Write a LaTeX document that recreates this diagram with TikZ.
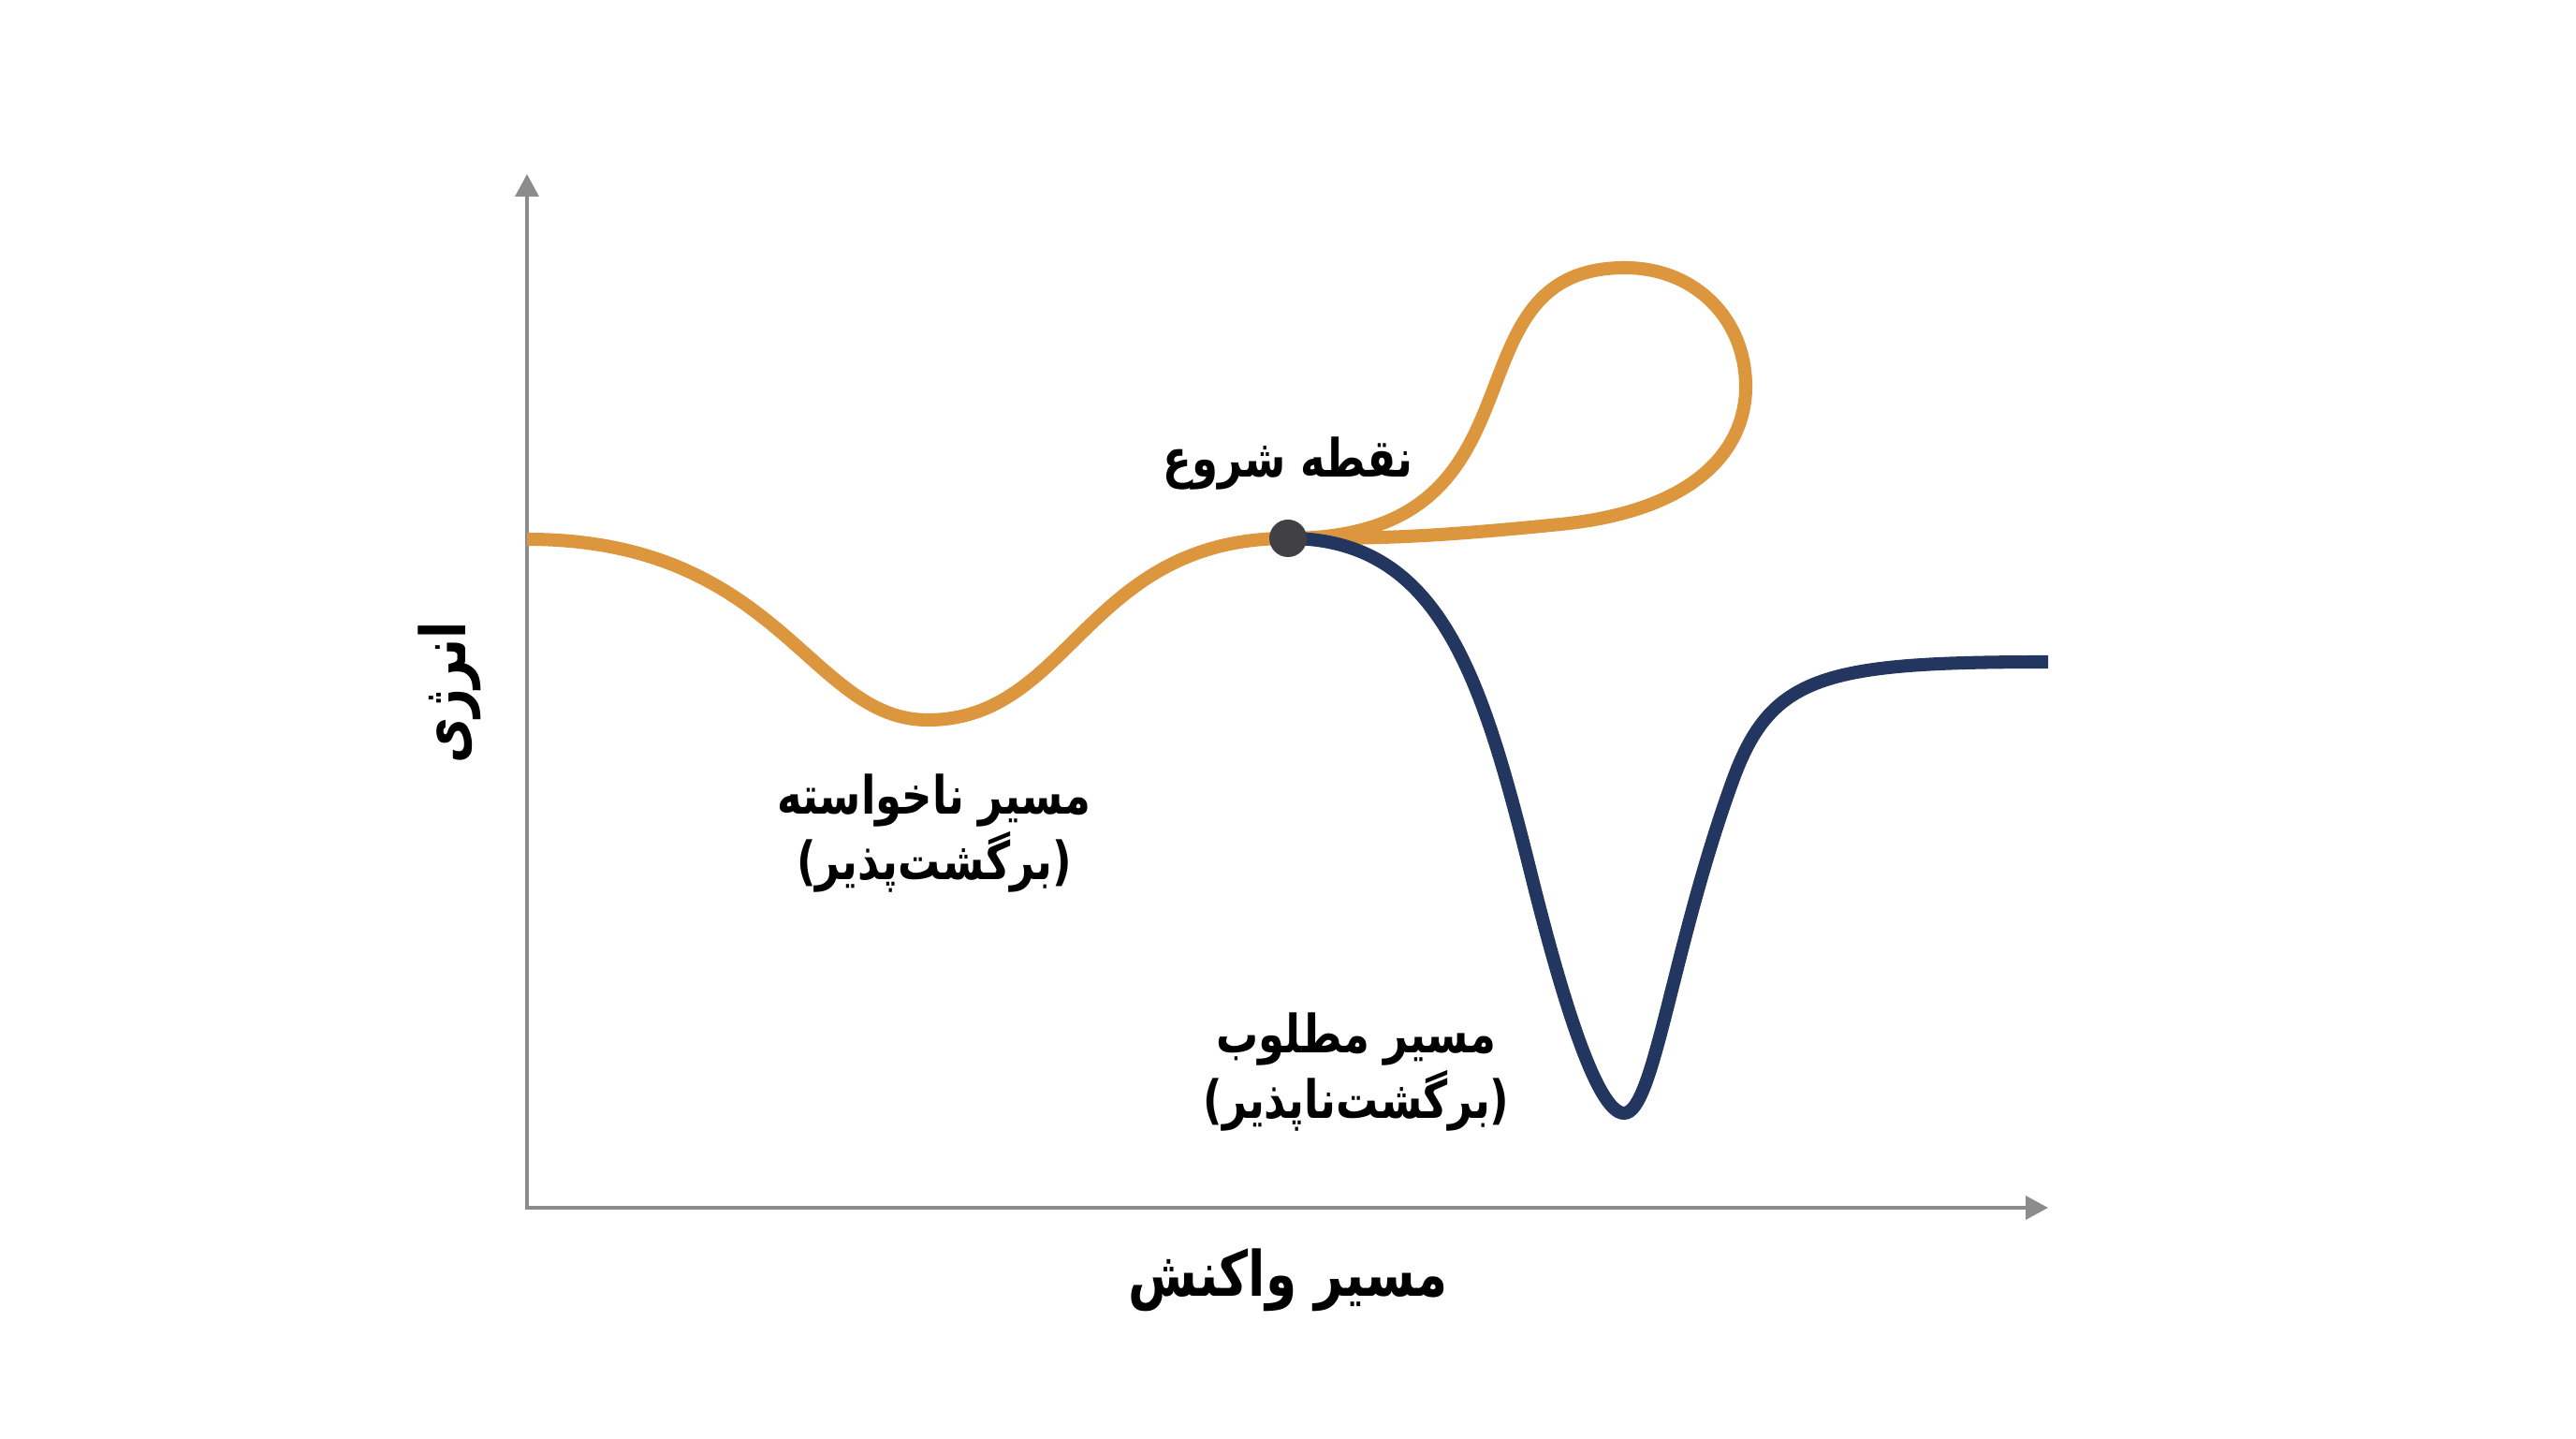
\documentclass[tikz,border=0pt]{standalone}
\usepackage{fontspec}
\usetikzlibrary{arrows.meta}
\newfontfamily\arabicfont[Script=Arabic, FakeStretch=0.8]{DejaVu Sans}
\TeXXeTstate=1
\definecolor{pathorange}{HTML}{DC963E}
\definecolor{pathblue}{HTML}{22365F}
\definecolor{dotgray}{HTML}{414042}
\definecolor{axisgray}{HTML}{8C8C8C}
\tikzstyle{axisline} = [draw=axisgray, line width=1pt,
{Triangle[length=0.24cm, width=0.25cm]}-{Triangle[length=0.24cm, width=0.25cm]}]
\tikzstyle{curve} = [line width=4pt]
\tikzstyle{lbl} = [font=\arabicfont\bfseries\fontsize{16}{20}\selectfont,
align=center, inner sep=0pt]
\tikzstyle{axlbl} = [font=\arabicfont\bfseries\fontsize{19}{23}\selectfont, inner sep=0pt]
\tikzstyle{dot} = [circle, fill=dotgray, minimum size=0.40cm, inner sep=0pt]

\begin{document}
\begin{tikzpicture}
\useasboundingbox[fill=white] (0,0) rectangle (27.52,15.36);

% axes
\coordinate (origin) at (5.63,2.46);
\coordinate (ytip) at (5.63,13.50);
\coordinate (xtip) at (21.88,2.46);
\draw[axisline] (ytip) -- (origin) -- (xtip);

% key points of the curves
\coordinate (start) at (13.76,9.61);
\coordinate (left) at (5.63,9.60);
\coordinate (well) at (9.91,7.67);
\coordinate (top) at (17.36,12.50);
\coordinate (right) at (18.65,11.23);
\coordinate (turn) at (16.67,9.76);
\coordinate (descent) at (16.37,5.97);
\coordinate (low) at (17.35,3.47);
\coordinate (rise) at (18.51,7.02);
\coordinate (end) at (21.88,8.29);

% unwanted path, reversible
\draw[curve, pathorange] (left) .. controls +(2.7,0) and +(-1.26,0) .. (well)
  .. controls +(1.535,0) and +(-2.165,0) .. (start);
\draw[curve, pathorange] (start) .. controls +(2.9,0) and +(-2.0,0) .. (top)
  .. controls +(0.75,0) and +(0,0.72) .. (right)
  .. controls +(0,-0.63) and +(1.5,0.15) .. (turn)
  .. controls +(-1.5,-0.15) and +(0.9,0) .. (start);

% desired path, irreversible
\draw[curve, pathblue] (start) .. controls +(1.64,0) and +(-0.53,2.13) .. (descent)
  .. controls +(0.29,-1.16) and +(-0.3,0) .. (low)
  .. controls +(0.32,0) and +(-0.65,-1.79) .. (rise)
  .. controls +(0.41,1.13) and +(-2.4,0) .. (end);

\node[dot] (startdot) at (start) {};

% labels
\node[lbl] (startlbl) at (13.76,10.41) {\beginR نقطه شروع\endR};
\node[lbl] (unwanted) at (9.98,6.46) {\beginR مسیر ناخواسته\endR\\)\beginR برگشت‌پذیر\endR(};
\node[lbl] (desired) at (14.49,3.91) {\beginR مسیر مطلوب\endR\\)\beginR برگشت‌ناپذیر\endR(};
\node[axlbl] (xlabel) at (13.76,1.69) {\beginR مسیر واکنش\endR};
\node[axlbl, rotate=90] (ylabel) at (4.80,7.96) {\beginR انرژی\endR};
\end{tikzpicture}
\end{document}
